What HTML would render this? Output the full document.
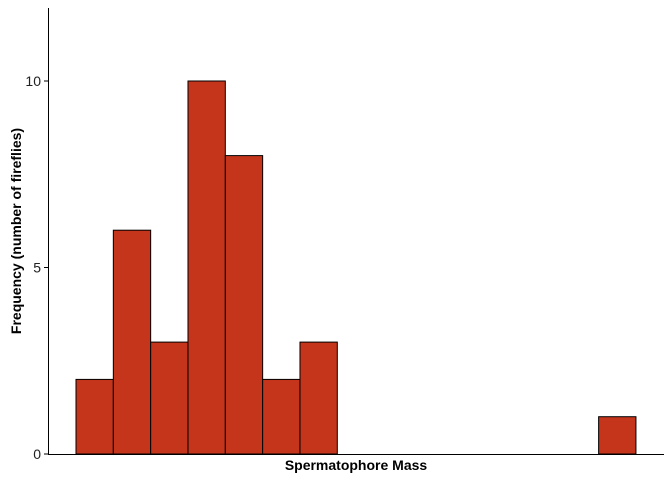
<!DOCTYPE html>
<html><head><meta charset="utf-8"><style>
body{margin:0;background:#fff;font-family:"Liberation Sans",Arial,sans-serif}
</style></head><body>
<svg id="chart" width="672" height="480" xmlns="http://www.w3.org/2000/svg">
<rect width="672" height="480" fill="#fff"/>
<g id="bars"></g>
<g id="axes"></g>
<text x="356" y="470" text-anchor="middle" font-size="14" font-weight="bold" fill="#000">Spermatophore Mass</text>
<text transform="translate(21,231) rotate(-90)" text-anchor="middle" font-size="14" font-weight="bold" fill="#000">Frequency (number of fireflies)</text>
</svg>
<script>
const counts = [2,6,3,10,8,2,3,0,0,0,0,0,0,0,1];
const yTicks = [0,5,10];
const NS="http://www.w3.org/2000/svg";
const x0=76, bw=37.33, yBase=454, pxPerUnit=37.3;
const xPos=i=>x0+i*bw;
const yPos=v=>yBase-v*pxPerUnit;
const bars=document.getElementById('bars');
counts.forEach((c,i)=>{
  if(c<=0) return;
  const r=document.createElementNS(NS,'rect');
  r.setAttribute('x',xPos(i));r.setAttribute('y',yPos(c));
  r.setAttribute('width',bw);r.setAttribute('height',yBase-yPos(c));
  r.setAttribute('fill','#C4351C');r.setAttribute('stroke','#000');r.setAttribute('stroke-width','1');
  
  
  bars.appendChild(r);
});
const axes=document.getElementById('axes');
function line(x1,y1,x2,y2,name){const l=document.createElementNS(NS,'line');
 l.setAttribute('x1',x1);l.setAttribute('y1',y1);l.setAttribute('x2',x2);l.setAttribute('y2',y2);
 l.setAttribute('stroke','#000');l.setAttribute('stroke-width','1');
 
 
 axes.appendChild(l);}
line(48.5,8,48.5,454.5,'y-axis-line');
line(48,454.5,664,454.5,'x-axis-line');
yTicks.forEach(t=>{
  line(44,yPos(t),48,yPos(t),'y-tick');
  const tx=document.createElementNS(NS,'text');
  tx.setAttribute('x',41);tx.setAttribute('y',yPos(t)+5);tx.setAttribute('text-anchor','end');
  tx.setAttribute('font-size','14');tx.setAttribute('fill','#222');tx.textContent=t;
  
  
  axes.appendChild(tx);
});
</script>
</body></html>
